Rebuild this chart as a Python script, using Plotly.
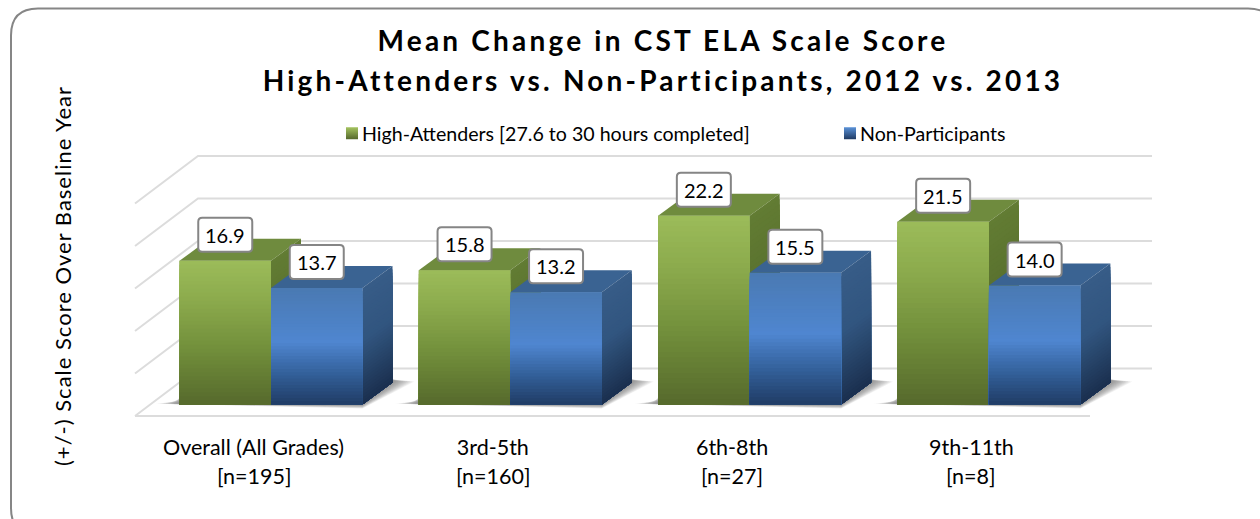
import plotly.graph_objects as go

categories = ["Overall (All Grades)", "3rd-5th", "6th-8th", "9th-11th"]
sample_sizes = ["[n=195]", "[n=160]", "[n=27]", "[n=8]"]
high_attenders = [16.9, 15.8, 22.2, 21.5]
non_participants = [13.7, 13.2, 15.5, 14.0]
grid_values = [0, 5, 10, 15, 20, 25]

W, H = 1260, 519
PL, PR, PT, PB = 120, 1160, 122, 430
PX_PER_CAT = 239.3
PX_PER_VAL = 8.5
X0_PX, Y0_PX = 271.0, 404.5
BAR_W = 91.5 / PX_PER_CAT
DEPTH_X = 30 / PX_PER_CAT
DEPTH_V = 22 / PX_PER_VAL
FLOOR_FRONT_V = -11.5 / PX_PER_VAL
FLOOR_BACK_V = 36 / PX_PER_VAL
GRID_FL, GRID_BL = (135 - X0_PX) / PX_PER_CAT, (198 - X0_PX) / PX_PER_CAT
GRID_FR, GRID_BR = (1090 - X0_PX) / PX_PER_CAT, (1152 - X0_PX) / PX_PER_CAT
LABEL_SHIFT = -17.5 / PX_PER_CAT

GREEN_FRONT = [(0, "#9bbb59"), (.25, "#8cab4d"), (.6, "#728f3b"), (1, "#55682c")]
GREEN_SIDE = [(0, "#627c33"), (1, "#4c5f27")]
BLUE_FRONT = [(0, "#4a7ab3"), (.45, "#4f86d0"), (.72, "#33609a"), (1, "#1f3a62")]
BLUE_SIDE = [(0, "#375c87"), (.45, "#31557f"), (1, "#1a2e4d")]
GREEN_TOP, BLUE_TOP = "#6f8b3e", "#3a6392"


def mix(stops, t):
    for (a, ca), (b, cb) in zip(stops, stops[1:]):
        if t <= b:
            f = (t - a) / (b - a)
            va = [int(ca[i:i + 2], 16) for i in (1, 3, 5)]
            vb = [int(cb[i:i + 2], 16) for i in (1, 3, 5)]
            return "#%02x%02x%02x" % tuple(round(p + (q - p) * f) for p, q in zip(va, vb))
    return stops[-1][1]


def poly(pts, color, opacity=1.0, layer="above"):
    d = "M" + " L".join(f"{x:.4f},{y:.4f}" for x, y in pts) + " Z"
    return dict(type="path", xref="x", yref="y", path=d, fillcolor=color,
                opacity=opacity, line=dict(width=0), layer=layer)


def px(p):
    return (p - PL) / (PR - PL)


def py(p):
    return (PB - p) / (PB - PT)


shapes = []
# gridlines
for v in grid_values:
    d = (f"M{GRID_FL:.4f},{v + FLOOR_FRONT_V:.4f} L{GRID_BL:.4f},{v + FLOOR_BACK_V:.4f} "
         f"L{GRID_BR:.4f},{v + FLOOR_BACK_V:.4f}")
    shapes.append(dict(type="path", xref="x", yref="y", path=d, layer="below",
                       line=dict(color="#dcdcdc", width=2)))
shapes.append(dict(type="line", xref="x", yref="y", x0=GRID_FL, x1=GRID_FR, y0=FLOOR_FRONT_V,
                   y1=FLOOR_FRONT_V, layer="below", line=dict(color="#dcdcdc", width=2)))

N = 36
for i in range(len(categories)):
    xl, xr = i - BAR_W, i + BAR_W
    # soft floor shadow
    for s in range(1, 13):
        e = (13 - s) / 12
        shapes.append(poly([
            (xl - e * 24 / PX_PER_CAT, e * 1 / PX_PER_VAL),
            (xr, -e * 4 / PX_PER_VAL),
            (xr + DEPTH_X + e * 22 / PX_PER_CAT, DEPTH_V + 1 / PX_PER_VAL),
            (xr + DEPTH_X, DEPTH_V + 3 / PX_PER_VAL),
            (xl, DEPTH_V * (0.12 + 0.25 * (1 - e))),
        ], "#505050", 0.07, "below"))
    for xa, val, front, side, top in [
        (xl, high_attenders[i], GREEN_FRONT, GREEN_SIDE, GREEN_TOP),
        (i, non_participants[i], BLUE_FRONT, BLUE_SIDE, BLUE_TOP),
    ]:
        xb = xa + BAR_W
        shapes.append(poly([(xa, val), (xa + DEPTH_X, val + DEPTH_V),
                            (xb + DEPTH_X, val + DEPTH_V), (xb, val)], top))
        for k in range(N):
            t = k / N
            v = val * (1 - t)
            shapes.append(poly([(xb, v), (xb + DEPTH_X, v + DEPTH_V),
                                (xb + DEPTH_X, DEPTH_V), (xb, 0)], mix(side, t)))
        for k in range(N):
            t = k / N
            v = val * (1 - t)
            shapes.append(poly([(xa, v), (xb, v), (xb, 0), (xa, 0)], mix(front, t)))

annotations = []
BOX = ("M-23,-17 L23,-17 Q27,-17 27,-13 L27,13 Q27,17 23,17 L-23,17 "
       "Q-27,17 -27,13 L-27,-13 Q-27,-17 -23,-17 Z")
for i in range(len(categories)):
    for xc, val in [(i - BAR_W / 2, high_attenders[i]), (i + BAR_W / 2, non_participants[i])]:
        yc = val + 26 / PX_PER_VAL
        shapes.append(dict(type="path", xref="x", yref="y", xsizemode="pixel", ysizemode="pixel",
                           xanchor=xc, yanchor=yc, path=BOX, fillcolor="white", layer="above",
                           line=dict(color="#858585", width=2)))
        annotations.append(dict(x=xc, y=yc, xref="x", yref="y", text=f"{val:.1f}", showarrow=False,
                                font=dict(family="Lato", size=20, color="#000000")))
    annotations.append(dict(x=i + LABEL_SHIFT, y=py(476), xref="x", yref="paper", yanchor="middle",
                            text=sample_sizes[i], showarrow=False,
                            font=dict(family="Lato", size=21.5, color="#000000")))

fig = go.Figure()
fig.add_trace(go.Bar(name="High-Attenders [27.6 to 30 hours completed]", x=list(range(4)),
                     y=high_attenders, marker=dict(color="#76923c", line=dict(width=0))))
fig.add_trace(go.Bar(name="Non-Participants", x=list(range(4)),
                     y=non_participants, marker=dict(color="#4479b8", line=dict(width=0))))

fig.update_layout(
    width=W, height=H, autosize=False,
    margin=dict(l=PL, r=W - PR, t=PT, b=H - PB, pad=0),
    paper_bgcolor="white", plot_bgcolor="rgba(0,0,0,0)",
    barmode="group", bargap=1 - 2 * BAR_W, bargroupgap=0,
    title=dict(text="<b>Mean Change in CST ELA Scale Score<br>High-Attenders vs. Non-Participants, 2012 vs. 2013</b>",
               x=663 / W, xanchor="center", xref="container", y=1 - 51 / H, yanchor="middle",
               font=dict(family="Lato", size=28, color="#000000")),
    legend=dict(orientation="h", x=0, y=py(114), xanchor="left", yanchor="top",
                bgcolor="rgba(0,0,0,0)", entrywidth=453, entrywidthmode="pixels",
                font=dict(family="Lato", size=19.6, color="#000000"), itemwidth=30,
                traceorder="normal"),
    xaxis=dict(range=[(PL - X0_PX) / PX_PER_CAT, (PR - X0_PX) / PX_PER_CAT], showgrid=False, zeroline=False,
               showline=False, ticks="", ticklabelstandoff=2, tickmode="array",
               tickvals=[i + LABEL_SHIFT for i in range(4)], ticktext=categories,
               tickfont=dict(family="Lato", size=21.5, color="#000000")),
    yaxis=dict(range=[(Y0_PX - PB) / PX_PER_VAL, (Y0_PX - PT) / PX_PER_VAL], showgrid=False, zeroline=False,
               showline=False, ticks="", showticklabels=False,
               title=dict(text="(+/-) Scale Score Over Baseline Year", standoff=41,
                          font=dict(family="Lato", size=22, color="#000000"))),
    shapes=shapes, annotations=annotations, showlegend=True,
)
# rounded chart-area frame, running past the right and bottom edges of the picture
L, T, R, B, r = 11, 8.5, 1275, 535, 27
fig.add_shape(type="path", xref="paper", yref="paper", layer="above",
              path=(f"M{px(L + r):.5f},{py(T):.5f} L{px(R - r):.5f},{py(T):.5f} "
                    f"Q{px(R):.5f},{py(T):.5f} {px(R):.5f},{py(T + r):.5f} "
                    f"L{px(R):.5f},{py(B - r):.5f} Q{px(R):.5f},{py(B):.5f} {px(R - r):.5f},{py(B):.5f} "
                    f"L{px(L + r):.5f},{py(B):.5f} Q{px(L):.5f},{py(B):.5f} {px(L):.5f},{py(B - r):.5f} "
                    f"L{px(L):.5f},{py(T + r):.5f} Q{px(L):.5f},{py(T):.5f} {px(L + r):.5f},{py(T):.5f} Z"),
              line=dict(color="#868686", width=2), fillcolor="rgba(0,0,0,0)")

fig.write_html("out.html", config=dict(displayModeBar=False),
               post_script=(
                   "document.body.style.margin='0';"
                   "document.querySelectorAll('.gtitle').forEach(e=>e.style.letterSpacing='3.2px');"
                   "var l=document.querySelectorAll('.gtitle .line');if(l.length)l[l.length-1].setAttribute('dy','1.43em');"
                   "document.querySelectorAll('.ytitle').forEach(e=>e.style.letterSpacing='1px');"
                   "document.querySelectorAll('.legendtext').forEach(e=>e.setAttribute('x','30'));"
                   "var g=document.querySelector('.legend');var m=/translate\\(([-\\d.]+),\\s*([-\\d.]+)\\)/.exec(g.getAttribute('transform'));"
                   "if(m)g.setAttribute('transform','translate('+(parseFloat(m[1])+212)+','+m[2]+')');"
                   "var s=document.querySelector('.main-svg');var ns='http://www.w3.org/2000/svg';var d=document.createElementNS(ns,'defs');"
                   "[['lg0','#a4c35f','#55682c'],['lg1','#5a92d8','#1f3a62']].forEach(function(c){var g2=document.createElementNS(ns,'linearGradient');"
                   "g2.id=c[0];g2.setAttribute('x1','0');g2.setAttribute('x2','0');g2.setAttribute('y1','0');g2.setAttribute('y2','1');"
                   "[['0',c[1]],['1',c[2]]].forEach(function(p){var st=document.createElementNS(ns,'stop');st.setAttribute('offset',p[0]);st.setAttribute('stop-color',p[1]);g2.appendChild(st);});d.appendChild(g2);});"
                   "s.appendChild(d);document.querySelectorAll('.legend .traces').forEach(function(t,i){t.querySelectorAll('.legendpoints path').forEach(function(q){q.style.fill='url(#lg'+i+')';});});"
               ))
